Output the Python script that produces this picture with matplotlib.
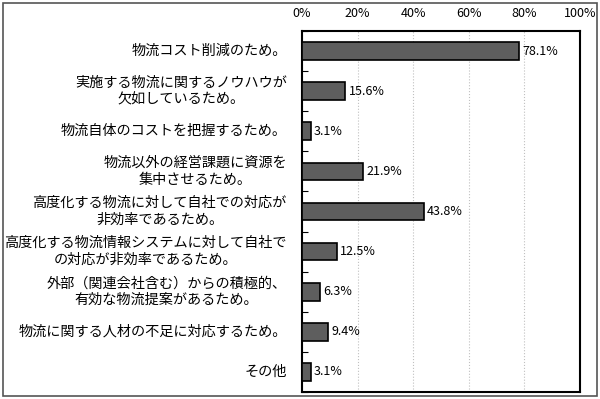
import matplotlib
matplotlib.use('agg')
import matplotlib.pyplot as plt
from matplotlib.patches import Rectangle
import numpy as np

plt.rcParams['font.family'] = ['Noto Sans CJK JP', 'DejaVu Sans']

categories = [
    "物流コスト削減のため。",
    "実施する物流に関するノウハウが\n欠如しているため。",
    "物流自体のコストを把握するため。",
    "物流以外の経営課題に資源を\n集中させるため。",
    "高度化する物流に対して自社での対応が\n非効率であるため。",
    "高度化する物流情報システムに対して自社で\nの対応が非効率であるため。",
    "外部（関連会社含む）からの積極的、\n有効な物流提案があるため。",
    "物流に関する人材の不足に対応するため。",
    "その他",
]
values = [78.1, 15.6, 3.1, 21.9, 43.8, 12.5, 6.3, 9.4, 3.1]
xticks = [0, 20, 40, 60, 80, 100]

fig = plt.figure(figsize=(6, 3.99), dpi=100)
ax = fig.add_axes([302/600, 1 - 392/399, 278/600, 361/399])

y = np.arange(len(categories))
ax.barh(y, values, height=0.44, color='#5e5e5e', edgecolor='black', linewidth=1.2, zorder=3)

for yi, v in zip(y, values):
    ax.text(v + 1.2, yi, f'{v:.1f}%', va='center', ha='left', fontsize=9, zorder=4)

ax.set_ylim(len(categories) - 0.5, -0.5)
ax.set_xlim(0, 100)
ax.set_yticks(y)
ax.set_yticklabels([])
ax.set_yticks(np.arange(len(categories) + 1) - 0.5, minor=True)
ax.tick_params(axis='y', which='major', length=0)
ax.tick_params(axis='y', which='minor', direction='in', length=4, width=0.8)

ax.set_xticks(xticks)
ax.set_xticklabels([f'{t}%' for t in xticks], fontsize=9)
ax.xaxis.tick_top()
ax.tick_params(axis='x', length=0, pad=8)
ax.grid(axis='x', linestyle=':', color='#c0c0c0', linewidth=0.8, zorder=0)

for s in ax.spines.values():
    s.set_linewidth(1.5)
    s.set_color('black')

# category labels, right aligned next to the axis
for yi, lab in zip(y, categories):
    ax.annotate(lab, xy=(0, yi), xycoords=('axes fraction', 'data'),
                xytext=(-11, 0), textcoords='offset points',
                ha='right', va='center', multialignment='center',
                fontsize=10.2, linespacing=1.25)

fig.patches.append(Rectangle((3/600, 3/399), 594/600, 393/399, transform=fig.transFigure,
                             fill=False, edgecolor='#555555', linewidth=1.2))

plt.savefig('out.png', dpi=100)
